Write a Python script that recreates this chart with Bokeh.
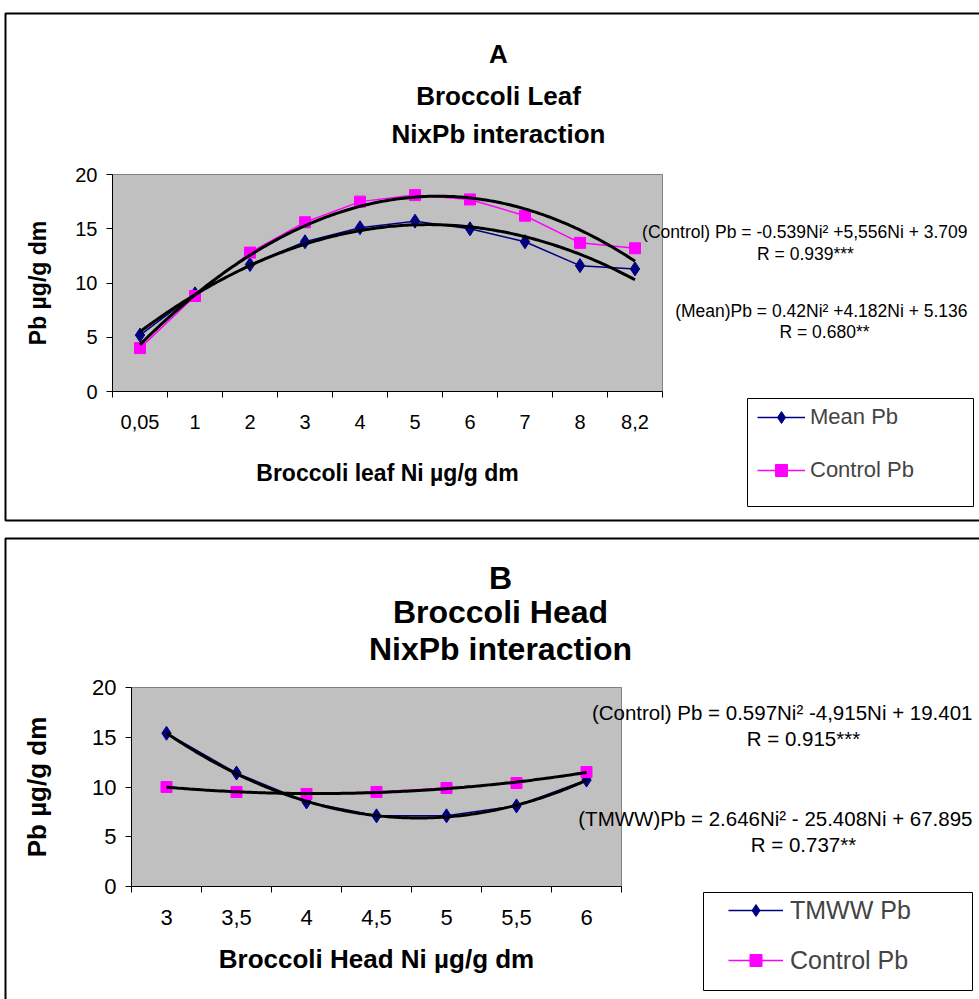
import numpy as np
from bokeh.plotting import figure
from bokeh.models import Range1d, FixedTicker, Label, BoxAnnotation, Legend, LegendItem
from bokeh.layouts import column
from bokeh.embed import file_html
from bokeh.resources import INLINE

# ---------------- data ----------------
leaf_ni_labels = ["0,05", "1", "2", "3", "4", "5", "6", "7", "8", "8,2"]
leaf_mean_pb = [5.2, 9.0, 11.7, 13.8, 15.1, 15.7, 15.0, 13.8, 11.6, 11.3]
leaf_control_pb = [4.0, 8.8, 12.8, 15.6, 17.5, 18.1, 17.7, 16.2, 13.7, 13.2]

head_ni_labels = ["3", "3,5", "4", "4,5", "5", "5,5", "6"]
head_tmww_pb = [15.4, 11.4, 8.5, 7.1, 7.1, 8.1, 10.7]
head_control_pb = [10.0, 9.5, 9.3, 9.5, 9.9, 10.4, 11.5]

y_ticks = [0, 5, 10, 15, 20]
Y_MAX = 20

FONT = "Liberation Sans"
NAVY = "#000080"
MAGENTA = "#FF00FF"
W = 979


def make_panel(labels, s1, s2, names, titles, xlabel, eqs, top, H, area,
               fonts, legend_geo, box_geo, panel_geo, ylab_standoff, xlab_standoff):
    """area = (left, top, right, bottom) of the grey plot area in page pixels."""
    n = len(labels)
    L, T, R, B = area
    kx = (R - L) / n
    ky = (B - T) / Y_MAX
    # ranges chosen so that the whole canvas is the frame
    x_range = Range1d(-L / kx, (W - L) / kx)
    y_range = Range1d((B - (top + H)) / ky, (B - top) / ky)

    def sx(px):
        return px

    def sy(py):
        return top + H - py

    p = figure(width=W, height=H, x_range=x_range, y_range=y_range,
               min_border=0, min_border_left=0, min_border_right=0,
               min_border_top=0, min_border_bottom=0,
               output_backend="svg", toolbar_location=None)
    p.background_fill_color = "white"
    p.border_fill_color = "white"
    p.outline_line_color = None
    p.xgrid.visible = False
    p.ygrid.visible = False

    tick_fs, lab_fs, title_fs, eq_fs, leg_fs = fonts
    xc = [i + 0.5 for i in range(n)]

    # grey plot area
    p.quad(left=[0], right=[n], bottom=[0], top=[Y_MAX], fill_color="#C0C0C0",
           line_color="#808080", line_width=1)

    # x axis: ticks at category boundaries, labels at centres
    xa = p.xaxis[0]
    xa.fixed_location = 0
    xa.bounds = (0, n)
    xa.ticker = FixedTicker(ticks=xc, minor_ticks=list(range(n + 1)))
    xa.major_label_overrides = {c: l for c, l in zip(xc, labels)}
    xa.major_tick_out = 0
    xa.major_tick_in = 0
    xa.minor_tick_out = 6
    xa.minor_tick_in = 0
    xa.minor_tick_line_color = "black"
    xa.axis_line_color = "black"
    xa.major_label_text_font = FONT
    xa.major_label_text_font_size = tick_fs
    xa.major_label_text_color = "black"
    xa.major_label_standoff = 17
    xa.axis_label = xlabel
    xa.axis_label_text_font = FONT
    xa.axis_label_text_font_size = lab_fs
    xa.axis_label_text_font_style = "bold"
    xa.axis_label_text_color = "black"
    xa.axis_label_standoff = xlab_standoff

    ya = p.yaxis[0]
    ya.fixed_location = 0
    ya.bounds = (0, Y_MAX)
    ya.ticker = FixedTicker(ticks=y_ticks)
    ya.major_tick_out = 6
    ya.major_tick_in = 0
    ya.minor_tick_out = 0
    ya.minor_tick_in = 0
    ya.axis_line_color = "black"
    ya.major_tick_line_color = "black"
    ya.major_label_text_font = FONT
    ya.major_label_text_font_size = tick_fs
    ya.major_label_text_color = "black"
    ya.major_label_standoff = 9
    ya.axis_label = "Pb µg/g dm"
    ya.axis_label_text_font = FONT
    ya.axis_label_text_font_size = lab_fs
    ya.axis_label_text_font_style = "bold"
    ya.axis_label_text_color = "black"
    ya.axis_label_standoff = ylab_standoff

    # series
    l1 = p.line(xc, s1, line_color=NAVY, line_width=1.5)
    m1 = p.scatter(xc, s1, marker="diamond", size=14, fill_color=NAVY, line_color=NAVY)
    l2 = p.line(xc, s2, line_color=MAGENTA, line_width=1.5)
    m2 = p.scatter(xc, s2, marker="square", size=11, fill_color=MAGENTA, line_color=MAGENTA)

    # 2nd-order polynomial trend lines fitted to each series
    xs = np.linspace(xc[0], xc[-1], 200)
    for s in (s1, s2):
        c = np.polyfit(xc, s, 2)
        p.line(xs, np.polyval(c, xs), line_color="black", line_width=3)

    # panel border (right side runs off the page as in the reference)
    pl, pt, pb = panel_geo
    p.add_layout(BoxAnnotation(left=sx(pl), right=sx(3000), top=sy(pt), bottom=sy(pb),
                               left_units="screen", right_units="screen",
                               top_units="screen", bottom_units="screen",
                               fill_alpha=0, line_color="black", line_alpha=1,
                               line_width=2))

    # titles
    for (txt, tx, ty) in titles:
        p.add_layout(Label(x=sx(tx), y=sy(ty), x_units="screen", y_units="screen",
                           text=txt, text_font=FONT, text_font_size=title_fs,
                           text_font_style="bold", text_align="center",
                           text_baseline="middle", text_color="black"))

    # regression equations
    for (txt, px, py, align) in eqs:
        p.add_layout(Label(x=sx(px), y=sy(py), x_units="screen", y_units="screen",
                           text=txt, text_font=FONT, text_font_size=eq_fs,
                           text_align=align, text_baseline="middle",
                           text_color="black"))

    # legend box
    bl, bt, br, bb = box_geo
    p.add_layout(BoxAnnotation(left=sx(bl), right=sx(br), top=sy(bt), bottom=sy(bb),
                               left_units="screen", right_units="screen",
                               top_units="screen", bottom_units="screen",
                               fill_color="white", fill_alpha=1,
                               line_color="black", line_alpha=1, line_width=1))
    gx, gw, r1, r2, stand = legend_geo
    rh = 30
    leg = Legend(items=[LegendItem(label=names[0], renderers=[l1, m1]),
                        LegendItem(label=names[1], renderers=[l2, m2])],
                 location=(sx(gx), sy(r2 + rh / 2)), orientation="vertical",
                 border_line_alpha=0, background_fill_alpha=0,
                 label_text_font=FONT, label_text_font_size=leg_fs,
                 glyph_width=gw, glyph_height=rh, label_height=rh,
                 spacing=int(r2 - r1 - rh), padding=0, margin=0,
                 label_standoff=stand)
    p.add_layout(leg)
    return p


top_panel = make_panel(
    leaf_ni_labels, leaf_mean_pb, leaf_control_pb, ["Mean Pb", "Control Pb"],
    [("A", 498, 53), ("Broccoli Leaf", 498, 95), ("NixPb interaction", 498, 133)],
    "Broccoli leaf Ni µg/g dm",
    [("(Control) Pb = -0.539Ni² +5,556Ni + 3.709", 967, 231, "right"),
     ("R = 0.939***", 805, 253, "center"),
     ("(Mean)Pb = 0.42Ni² +4.182Ni + 5.136", 967, 310, "right"),
     ("R = 0.680**", 824, 331, "center")],
    top=0, H=529, area=(112, 174, 662, 391),
    fonts=("20px", "23px", "26px", "17.5px", "22px"),
    legend_geo=(757, 48, 417, 470, 5), box_geo=(747, 398, 973, 506),
    panel_geo=(5, 13, 520), ylab_standoff=21, xlab_standoff=28)

bottom_panel = make_panel(
    head_ni_labels, head_tmww_pb, head_control_pb, ["TMWW Pb", "Control Pb"],
    [("B", 500, 577), ("Broccoli Head", 500, 611), ("NixPb interaction", 500, 648)],
    "Broccoli Head Ni µg/g dm",
    [("(Control) Pb = 0.597Ni² -4,915Ni + 19.401", 972, 712, "right"),
     ("R = 0.915***", 803, 738, "center"),
     ("(TMWW)Pb = 2.646Ni² - 25.408Ni + 67.895", 972, 818, "right"),
     ("R = 0.737**", 803, 844, "center")],
    top=529, H=470, area=(131, 687, 621, 886),
    fonts=("22px", "26px", "32px", "20.5px", "25px"),
    legend_geo=(728, 55, 910, 960, 7), box_geo=(703, 892, 972, 990),
    panel_geo=(5, 538, 1300), ylab_standoff=37, xlab_standoff=16)

layout = column(top_panel, bottom_panel, spacing=0)
open("out.html", "w").write(file_html(layout, INLINE))
